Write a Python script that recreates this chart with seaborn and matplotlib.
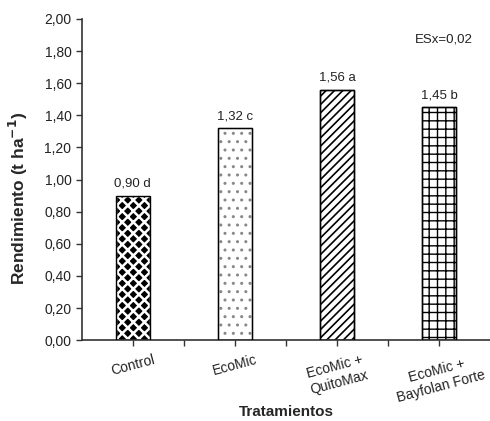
import numpy as np
import pandas as pd
import matplotlib
matplotlib.use('Agg')
import matplotlib.pyplot as plt
import matplotlib.transforms as mtransforms
from matplotlib.markers import TICKDOWN
from matplotlib.ticker import FuncFormatter, FixedLocator
import seaborn as sns

# datos
tratamientos = ['Control', 'EcoMic', 'EcoMic +\nQuitoMax', 'EcoMic +\nBayfolan Forte']
rendimiento = [0.90, 1.32, 1.56, 1.45]
letras = ['d', 'c', 'a', 'b']
esx = '0,02'

df = pd.DataFrame({'trat': tratamientos, 'rend': rendimiento})

sns.set_style('white')
plt.rcParams['font.family'] = ['Liberation Sans', 'DejaVu Sans']
plt.rcParams['hatch.linewidth'] = 1.0

fig = plt.figure(figsize=(4.9, 4.21), dpi=100)
ax = fig.add_axes([0.167, 0.192, 0.833, 0.763])

sns.barplot(data=df, x='trat', y='rend', ax=ax, width=0.33,
            color='white', edgecolor='black', linewidth=1.0)

eje = '#333333'
hatches = ['xxx', '..', '////', '++']
hcol = ['white', '#888888', 'black', 'black']
fcol = ['black', 'white', 'white', 'white']
hlw = [1.8, 1.0, 1.2, 1.0]
for i, p in enumerate(ax.patches):
    p.set_facecolor(fcol[i])
    p.set_hatch(hatches[i])
    p.set_edgecolor(hcol[i])
    if hasattr(p, 'set_hatch_linewidth'):
        p.set_hatch_linewidth(hlw[i])
    # contorno negro encima
    ax.add_patch(plt.Rectangle((p.get_x(), 0), p.get_width(), p.get_height(),
                               fill=False, edgecolor='black', linewidth=1.0, zorder=3))
    ax.text(p.get_x() + p.get_width() / 2, p.get_height() + 0.035,
            ('%.2f' % rendimiento[i]).replace('.', ',') + ' ' + letras[i],
            ha='center', va='bottom', fontsize=9.5, color='#222222')

ax.text(0.888, 0.935, 'ESx=' + esx, transform=ax.transAxes, ha='center',
        va='center', fontsize=9.5, color='#222222')

ax.set_xlim(-0.5, 3.5)
ax.set_ylim(0, 2.0)
ax.set_yticks(np.arange(0, 2.01, 0.2))
ax.yaxis.set_major_formatter(FuncFormatter(lambda v, pos: ('%.2f' % v).replace('.', ',')))
ax.set_xticks(range(len(tratamientos)))
ax.set_xticklabels(tratamientos, rotation=15, ha='center', fontsize=10, color='#222222')
# marcas entre categorias
ax.xaxis.set_minor_locator(FixedLocator(np.arange(0.5, len(tratamientos) - 1, 1.0)))
ax.tick_params(axis='x', which='major', length=0, pad=9)
ax.tick_params(axis='x', which='minor', direction='out', length=4, width=1, color=eje,
               bottom=True)
# marcas en el centro de cada barra (dibujadas a mano)
trans = mtransforms.blended_transform_factory(ax.transData, ax.transAxes)
ax.plot(range(len(tratamientos)), [0] * len(tratamientos), transform=trans,
        linestyle='none', marker=TICKDOWN, markersize=4, markeredgewidth=1,
        color=eje, clip_on=False, zorder=5)
ax.tick_params(axis='y', direction='out', length=4, width=1, color=eje, left=True,
               labelsize=10, labelcolor='#222222')
for s in ['top', 'right']:
    ax.spines[s].set_visible(False)
for s in ['left', 'bottom']:
    ax.spines[s].set_color(eje)
    ax.spines[s].set_linewidth(1.2)

ax.set_xlabel('Tratamientos', fontsize=11, fontweight='bold', labelpad=0)
ax.set_ylabel(r'Rendimiento (t ha$^{\mathbf{-1}}$)', fontsize=12.5, fontweight='bold')
ax.yaxis.set_label_coords(-0.128, 0.44)

fig.savefig('out.png', dpi=100)
